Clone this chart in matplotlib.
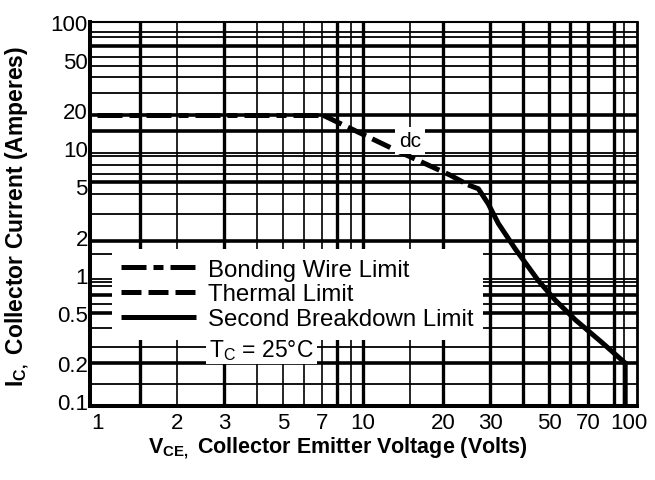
import matplotlib
matplotlib.use("Agg")
import matplotlib.pyplot as plt

# Safe operating area curve
bond_v = [1.0, 7.1]
bond_i = [18.2, 18.2]
thermal_v = [7.1, 13.5, 21.2, 24.8]
thermal_i = [18.2, 9.5, 6.15, 5.14]
sb_v = [24.8, 27.1, 29.5, 32.2, 37.3, 45.5, 52.7, 62.7, 79.1, 96.6, 96.6]
sb_i = [5.14, 4.79, 3.65, 2.55, 1.60, 0.90, 0.63, 0.44, 0.29, 0.20, 0.09]

x_ticks = [1, 2, 3, 5, 7, 10, 20, 30, 50, 70, 100]
x_ticklabels = ["1", "2", "3", "5", "7", "10", "20", "30", "50", "70", "100"]
y_ticks = [0.1, 0.2, 0.5, 1, 2, 5, 10, 20, 50, 100]
y_ticklabels = ["0.1", "0.2", "0.5", "1", "2", "5", "10", "20", "50", "100"]

# grid lines of the scanned sheet (heavy and light)
x_grid_heavy = [1.45, 3, 8, 10, 20, 30, 40, 50, 60, 70, 88]
x_grid_light = [2, 4, 5, 6, 7, 9, 15, 96]
y_grid_heavy = [64, 18.4, 13.8, 5.4, 1.84, 0.69, 0.5, 0.2]
y_grid_light = [83.5, 76, 53, 45, 36.5, 27.4, 9.15, 8.66, 7.36, 6.26, 4.37,
                3.0, 1.46, 0.93, 0.87, 0.81, 0.59, 0.38, 0.27, 0.136]

plt.rcParams["font.family"] = ["Liberation Sans", "DejaVu Sans"]
plt.rcParams["mathtext.fontset"] = "custom"
plt.rcParams["mathtext.rm"] = "Liberation Sans"
plt.rcParams["mathtext.bf"] = "Liberation Sans:bold"

fig = plt.figure(figsize=(6.55, 4.81), dpi=100)
ax = fig.add_axes([90 / 655, 1 - 407 / 481, 547 / 655, 384 / 481])
ax.set_xscale("log")
ax.set_yscale("log")
ax.set_xlim(0.94, 107)
ax.set_ylim(0.0914, 91.4)

for v in x_grid_heavy:
    ax.axvline(v, color="black", lw=2.4, zorder=1)
for v in x_grid_light:
    ax.axvline(v, color="black", lw=1.2, zorder=1)
for v in y_grid_heavy:
    ax.axhline(v, color="black", lw=2.6, zorder=1)
for v in y_grid_light:
    ax.axhline(v, color="black", lw=1.3, zorder=1)

lw = 3.6
ax.plot(bond_v, bond_i, color="black", lw=lw, dashes=(5, 1.4, 2, 1.4),
        label="Bonding Wire Limit", zorder=3)
ax.plot(thermal_v, thermal_i, color="black", lw=lw, dashes=(4, 1.4),
        label="Thermal Limit", zorder=3)
ax.plot(sb_v, sb_i, color="black", lw=lw, solid_capstyle="butt",
        label="Second Breakdown Limit", zorder=3)

ax.text(15.0, 11.5, "dc", fontsize=15, ha="center", va="center", zorder=4,
        bbox=dict(facecolor="white", edgecolor="none", pad=3))

leg = ax.legend(loc="upper left", bbox_to_anchor=(0.040, 0.409), fontsize=17.3,
                frameon=True, fancybox=False, framealpha=1, facecolor="white",
                edgecolor="none", borderpad=0.4, labelspacing=0.12,
                handlelength=3.1, handletextpad=0.5, borderaxespad=0)
leg.set_zorder(5)

ax.text(0.218, 0.148, r"T$_\mathrm{C}$ = 25°C", transform=ax.transAxes,
        fontsize=16.5, ha="left", va="center", zorder=6,
        bbox=dict(facecolor="white", edgecolor="none", pad=2))

ax.set_xticks(x_ticks)
ax.set_xticklabels(x_ticklabels)
ax.set_yticks(y_ticks)
ax.set_yticklabels(y_ticklabels)
ax.minorticks_off()
ax.tick_params(axis="both", length=0, labelsize=16)
ax.tick_params(axis="x", pad=4.5)
ax.tick_params(axis="y", pad=1.5)

for side, w in [("left", 2.9), ("bottom", 2.9), ("top", 1.5), ("right", 2.0)]:
    ax.spines[side].set_linewidth(w)
    ax.spines[side].set_zorder(7)

fig.text(18 / 655, 1 - 216 / 481, r"$\mathbf{I_{C,}}$ Collector Current (Amperes)",
         rotation=90, ha="center", va="center", fontsize=16.5, fontweight="bold")
fig.text(338 / 655, 1 - 448 / 481, r"$\mathbf{V_{CE,}}$ Collector Emitter Voltage (Volts)",
         ha="center", va="center", fontsize=15.5, fontweight="bold")

fig.savefig("out.png", dpi=100)
